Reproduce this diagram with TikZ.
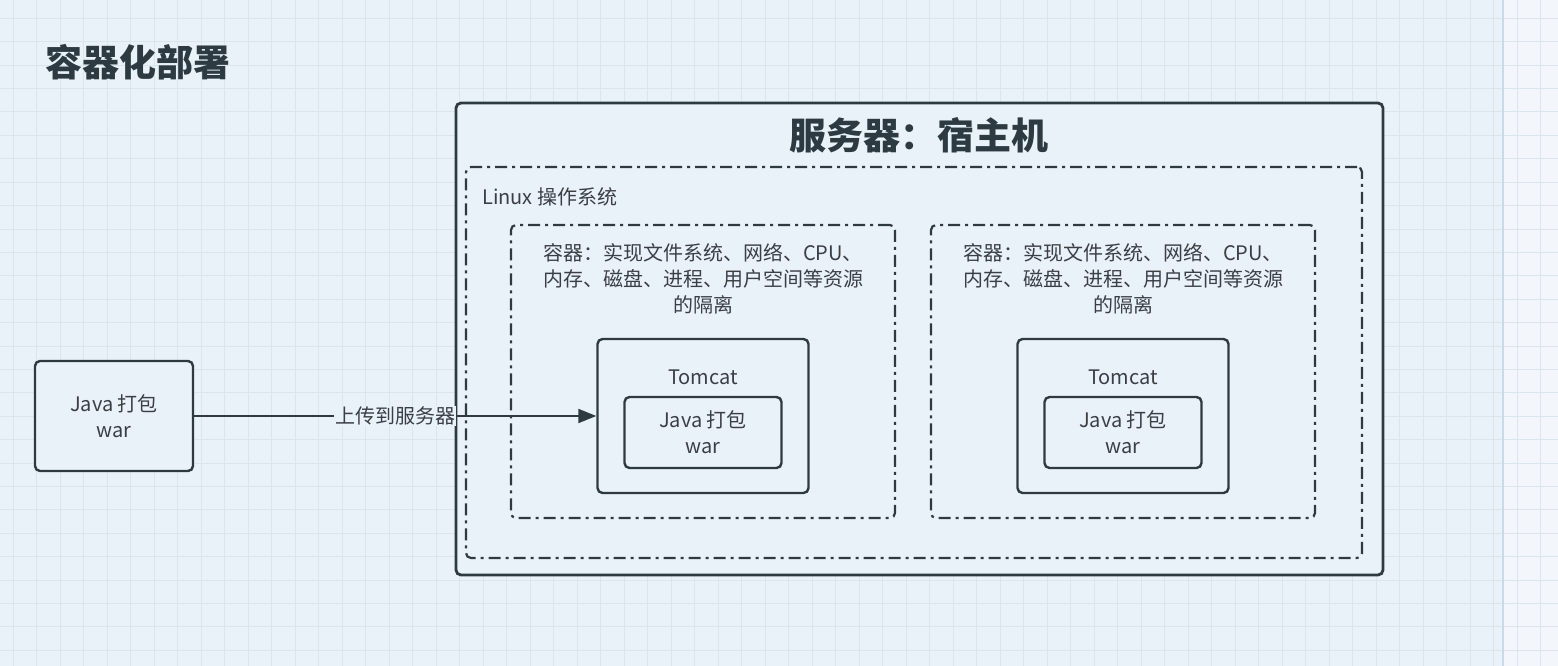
\documentclass[tikz,border=0pt]{standalone}
\usepackage{fontspec}
\setmainfont{Noto Sans CJK SC}
\usepackage{tikz}
\usetikzlibrary{positioning,arrows.meta}
\usepackage{xcolor}
\definecolor{bgblue}{HTML}{E9F2F9}
\definecolor{sideblue}{HTML}{F3F7FB}
\definecolor{gridblue}{HTML}{DAE5EE}
\definecolor{stripline}{HTML}{C9DBE9}
\definecolor{edge}{HTML}{2E3A42}
\definecolor{txt}{HTML}{3A3F44}
\tikzset{
  box/.style={draw=edge, line width=2.4pt, rounded corners=5pt, fill=bgblue, inner sep=0pt},
  dashdot/.style={box, line width=2.2pt, dash pattern=on 12pt off 5pt on 3pt off 5pt},
  body/.style={text=txt, font=\fontsize{20}{26}\selectfont, align=center, inner sep=0pt},
  heading/.style={text=edge, font=\fontsize{37}{40}\selectfont\bfseries, inner sep=0pt},
}
\begin{document}
\begin{tikzpicture}[x=1pt,y=-1pt]
  \useasboundingbox (0,0) rectangle (1558,666);
  % Canvas with grid
  \fill[bgblue] (0,0) rectangle (1503,666);
  \fill[sideblue] (1503,0) rectangle (1558,666);
  \foreach \i in {0,...,65}
    \draw[gridblue, line width=0.8pt] (13.3+23.5*\i,0) -- ++(0,666);
  \foreach \j in {0,...,28}
    \draw[gridblue, line width=0.8pt] (0,18.3+23.4*\j) -- ++(1558,0);
  \draw[stripline, line width=1.2pt] (1503,0) -- (1503,666);
  \node[heading, anchor=west] (title) at (45,62) {容器化部署};
  % Host server
  \node[box, line width=2.8pt, minimum width=927, minimum height=472] (server) at (919.5,339) {};
  \node[heading] (servertitle) at (919,135) {服务器：宿主机};
  \node[dashdot, minimum width=896, minimum height=391] (linux) at (914,362.5) {};
  \node[body, anchor=west] (linuxtext) at (482,197) {Linux 操作系统};
  % Two containers, each with Tomcat and war
  \foreach \cx [count=\i] in {703,1123} {
    \node[dashdot, minimum width=384, minimum height=293] (cont\i) at (\cx,371.5) {};
    \node[body] (conttext\i) at (\cx,279) {容器：实现文件系统、网络、CPU、\\内存、磁盘、进程、用户空间等资源\\的隔离};
    \node[box, minimum width=211, minimum height=154] (tomcat\i) at (\cx,416) {};
    \node[body] (tomcattext\i) at (\cx,377) {Tomcat};
    \node[box, body, minimum width=157, minimum height=71] (war\i) at (\cx,432.5) {Java 打包\\war};
  }
  % Local package
  \node[box, body, minimum width=158, minimum height=110] (javaL) at (114,416) {Java 打包\\war};
  \draw[edge, line width=2pt, -{Triangle[length=18pt,width=14pt]}] (javaL) --
    node[body, fill=bgblue, inner sep=1pt] (upload) {上传到服务器} (tomcat1);
\end{tikzpicture}
\end{document}
